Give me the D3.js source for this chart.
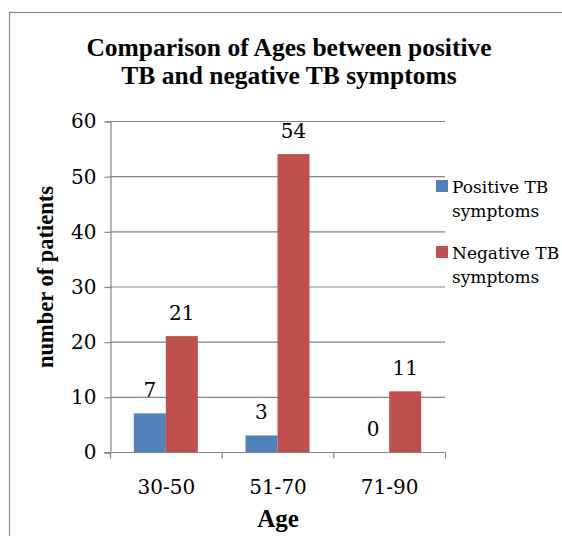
<!DOCTYPE html>
<html>
<head>
<meta charset="utf-8">
<script src="https://cdn.jsdelivr.net/npm/d3@7"></script>
<style>
  body { margin: 0; background: #fff; }
  text { font-family: "DejaVu Serif", "Liberation Serif", serif; fill: #000; }
</style>
</head>
<body>
<script>
// chart data
var categories = ["30-50", "51-70", "71-90"];
var seriesNames = ["Positive TB symptoms", "Negative TB symptoms"];
var positive = [7, 3, 0];
var negative = [21, 54, 11];
var yTicks = [0, 10, 20, 30, 40, 50, 60];

var width = 562, height = 536;
var colors = ["#4F81BD", "#C0504D"];

var svg = d3.select("body").append("svg")
    .attr("width", width)
    .attr("height", height);

// outer chart frame (runs past the right/bottom edge of the picture)
svg.append("rect")
    .attr("x", 9.5).attr("y", 12.5)
    .attr("width", 600).attr("height", 600)
    .attr("fill", "none")
    .attr("stroke", "#868686")
    .attr("stroke-width", 1.2);

var x0 = d3.scaleBand().domain(categories).range([110, 445]);
var y = d3.scaleLinear().domain([0, 60]).range([452, 121]);
var x1 = d3.scaleBand().domain([0, 1]).range([x0.bandwidth() / 2 - 32, x0.bandwidth() / 2 + 32]);

// gridlines
svg.append("g").selectAll("line")
    .data(yTicks.filter(function (d) { return d > 0; }))
    .enter().append("line")
    .attr("x1", 110).attr("x2", 445)
    .attr("y1", function (d) { return y(d) + 0.5; })
    .attr("y2", function (d) { return y(d) + 0.5; })
    .attr("stroke", "#868686")
    .attr("stroke-width", 1.2);

// y axis
var yAxis = svg.append("g")
    .attr("transform", "translate(110.5,0.5)")
    .call(d3.axisLeft(y).tickValues(yTicks).tickSize(6).tickPadding(8));
yAxis.selectAll("text").attr("font-size", 20);

// x axis: ticks sit between categories
var xAxis = svg.append("g")
    .attr("transform", "translate(0.5," + (y(0) + 0.5) + ")");
xAxis.append("line")
    .attr("x1", 104).attr("x2", 445)
    .attr("stroke", "#868686").attr("stroke-width", 1.2);
xAxis.selectAll(".tk")
    .data(categories.concat(["end"]))
    .enter().append("line")
    .attr("x1", function (d, i) { return 110 + i * x0.step(); })
    .attr("x2", function (d, i) { return 110 + i * x0.step(); })
    .attr("y1", 0).attr("y2", 6)
    .attr("stroke", "#868686").attr("stroke-width", 1.2);
xAxis.selectAll(".lbl")
    .data(categories)
    .enter().append("text")
    .attr("x", function (d) { return x0(d) + x0.bandwidth() / 2; })
    .attr("y", 41)
    .attr("text-anchor", "middle")
    .attr("font-size", 20)
    .text(function (d) { return d; });

svg.selectAll(".domain").attr("stroke", "#868686").attr("stroke-width", 1.2);
svg.selectAll(".tick line").attr("stroke", "#868686").attr("stroke-width", 1.2);

// bars
var rows = categories.map(function (c, i) { return { cat: c, vals: [positive[i], negative[i]] }; });
var groups = svg.append("g").selectAll("g")
    .data(rows)
    .enter().append("g")
    .attr("transform", function (d) { return "translate(" + x0(d.cat) + ",0)"; });

groups.selectAll("rect")
    .data(function (d) { return d.vals; })
    .enter().append("rect")
    .attr("x", function (d, i) { return x1(i); })
    .attr("width", x1.bandwidth())
    .attr("y", function (d) { return y(d); })
    .attr("height", function (d) { return y(0) - y(d); })
    .attr("fill", function (d, i) { return colors[i]; });

groups.selectAll("text")
    .data(function (d) { return d.vals; })
    .enter().append("text")
    .attr("x", function (d, i) { return x1(i) + x1.bandwidth() / 2; })
    .attr("y", function (d) { return y(d) - 16; })
    .attr("text-anchor", "middle")
    .attr("font-size", 20)
    .text(function (d) { return d; });

// title (style, not attribute, so the css rule doesn't win)
var title = svg.append("text")
    .attr("text-anchor", "middle")
    .attr("font-weight", "bold")
    .style("font-family", "'Liberation Serif', serif")
    .attr("font-size", 25.5);
title.append("tspan").attr("x", 289).attr("y", 56).text("Comparison of Ages between positive");
title.append("tspan").attr("x", 289).attr("y", 83.5).text("TB and negative TB symptoms");

// axis titles
svg.append("text")
    .attr("x", 278).attr("y", 527)
    .attr("text-anchor", "middle")
    .attr("font-weight", "bold")
    .style("font-family", "'Liberation Serif', serif")
    .attr("font-size", 25)
    .text("Age");

svg.append("text")
    .attr("transform", "translate(53,277) rotate(-90)")
    .attr("text-anchor", "middle")
    .attr("font-weight", "bold")
    .style("font-family", "'Liberation Serif', serif")
    .attr("font-size", 22.5)
    .text("number of patients");

// legend
var legend = svg.append("g").selectAll("g")
    .data(seriesNames)
    .enter().append("g")
    .attr("transform", function (d, i) { return "translate(436," + (180 + i * 66) + ")"; });
legend.append("rect")
    .attr("width", 12).attr("height", 12)
    .attr("fill", function (d, i) { return colors[i]; });
legend.append("text")
    .attr("font-size", 17)
    .each(function (d) {
        var words = d.split(" ");
        d3.select(this).append("tspan").attr("x", 16).attr("y", 13).text(words[0] + " " + words[1]);
        d3.select(this).append("tspan").attr("x", 16).attr("y", 37).text(words[2]);
    });
</script>
</body>
</html>
